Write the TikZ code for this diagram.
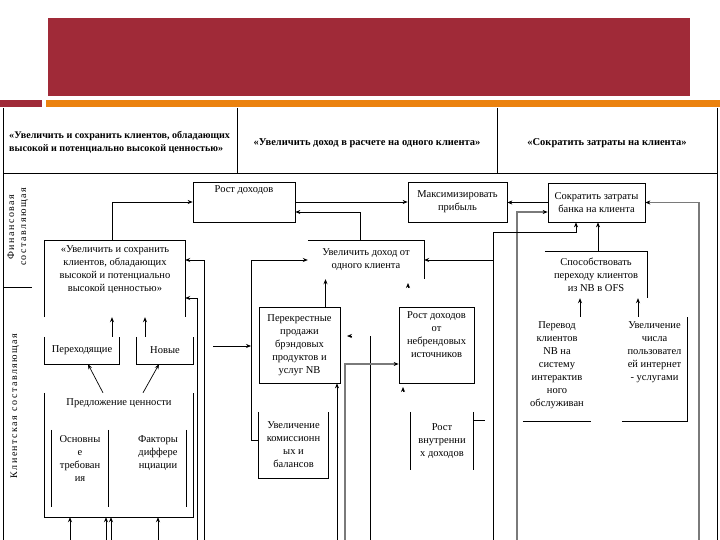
\documentclass[tikz,border=0pt]{standalone}
\usepackage{fontspec}
\setmainfont{Liberation Serif}
\newfontfamily\spacedfont[LetterSpace=15]{Liberation Serif}
\usepackage{tikz}
\usetikzlibrary{positioning, arrows, arrows.meta, calc}
\definecolor{headRed}{HTML}{A02A38}
\definecolor{barOrange}{HTML}{EB820F}
\definecolor{scanGray}{HTML}{7A7A7A}

\begin{document}
\begin{tikzpicture}[
    x=1pt, y=-1pt,
    every node/.style={font=\fontsize{10.5}{13}\selectfont, align=center, inner sep=1pt},
    box/.style={rectangle, draw=black, line width=0.7pt, inner sep=0pt},
    openbox/.style={rectangle, inner sep=0pt},
    border/.style={line width=0.7pt},
    arrow/.style={->, >={Stealth[length=5pt, width=4pt]}, line width=0.7pt},
    grayarrow/.style={->, >={Stealth[length=5pt, width=4pt, black]}, line width=1.3pt, draw=scanGray},
    headtext/.style={font=\bfseries\fontsize{10.5}{13}\selectfont},
    sidelabel/.style={font=\spacedfont\fontsize{10}{12}\selectfont, rotate=90},
]
\fill[white] (0,0) rectangle (720,540);
\useasboundingbox (0,0) rectangle (720,540);

% === TITLE BAND ===
\fill[headRed] (48,18) rectangle (690,96);
\fill[headRed] (0,100) rectangle (42,107);
\fill[barOrange] (46,100) rectangle (720,107);

% === TABLE FRAME ===
\draw[border] (3,108) -- (3,540);
\draw[border] (717,108) -- (717,540);
\draw[border] (237,108) -- (237,173);
\draw[border] (497,108) -- (497,173);
\draw[border] (3,173) -- (717,173);
\draw[border] (3,287) -- (32,287);

% === HEADINGS ===
\node[headtext, anchor=west, align=left, font=\bfseries\fontsize{10.1}{13}\selectfont] (headA) at (8,142.5)
    {«Увеличить и сохранить клиентов, обладающих\\высокой и потенциально высокой ценностью»};
\node[headtext] (headB) at (367,143) {«Увеличить доход в расчете на одного клиента»};
\node[headtext] (headC) at (607,143) {«Сократить затраты на клиента»};

% === SIDE LABELS ===
\node[sidelabel] (finLabel) at (18,227) {Финансовая\\составляющая};
\node[sidelabel] (cliLabel) at (15,406) {Клиентская составляющая};

% === FINANCIAL ROW ===
\node[box, minimum width=102, minimum height=40] (rost) at (244,202) {};
\node[below=3pt of rost.north] (rostT) {Рост доходов};
\node[box, minimum width=99, minimum height=40] (maks) at (457.5,202) {Максимизировать\\прибыль};
\node[box, minimum width=97, minimum height=39] (sokr) at (596.5,202.5) {Сократить затраты\\банка на клиента};

% --- client column ---
\node[openbox, minimum width=140, minimum height=76] (uvsohr) at (115,279) {};
\node[below=4pt of uvsohr.north] (uvsohrT)
    {«Увеличить и сохранить\\клиентов, обладающих\\высокой и потенциально\\высокой ценностью»};
\draw[border] (uvsohr.south west) -- (uvsohr.north west) -- (uvsohr.north east) -- (uvsohr.south east);

\node[openbox, minimum width=74, minimum height=27] (pereh) at (82,350.5) {Переходящие};
\draw[border] (pereh.north west) -- (pereh.south west) -- (pereh.south east) -- (pereh.north east);
\node[openbox, minimum width=56, minimum height=27] (novye) at (165,350.5) {Новые};
\draw[border] (novye.north west) -- (novye.south west) -- (novye.south east) -- (novye.north east);

\node[openbox, minimum width=148, minimum height=124] (predl) at (119,455) {};
\node[below=5pt of predl.north] (predlT) {Предложение ценности};
\draw[border] (predl.north west) -- (predl.south west) -- (predl.south east) -- (predl.north east);

\node[openbox, minimum width=56, minimum height=77] (osnov) at (80,468.5) {};
\node[below=5pt of osnov.north] (osnovT) {Основны\\е\\требован\\ия};
\draw[border] (osnov.north west) -- (osnov.south west);
\draw[border] (osnov.north east) -- (osnov.south east);

\node[openbox, minimum width=56, minimum height=77] (faktor) at (158,468.5) {};
\node[below=5pt of faktor.north] (faktorT) {Факторы\\диффере\\нциации};
\draw[border] (faktor.north east) -- (faktor.south east);

% --- revenue column ---
\node[openbox, minimum width=116, minimum height=38] (uvdoh) at (366,260) {Увеличить доход от\\одного клиента};
\draw[border] (uvdoh.north west) -- (uvdoh.north east) -- (uvdoh.south east);

\node[box, minimum width=81, minimum height=76] (perekr) at (299.5,345)
    {Перекрестные\\продажи\\брэндовых\\продуктов и\\услуг NB};
\node[box, minimum width=75, minimum height=76] (nebrand) at (436.5,345) {};
\node[below=4pt of nebrand.north] (nebrandT) {Рост доходов\\от\\небрендовых\\источников};

\node[openbox, minimum width=69, minimum height=66] (uvkom) at (293.5,445)
    {Увеличение\\комиссионн\\ых и\\балансов};
\draw[border] (uvkom.north west) -- (uvkom.south west) -- (uvkom.south east) -- (uvkom.north east);

\node[openbox, minimum width=62, minimum height=58] (rvnutr) at (442,441) {Рост\\внутренни\\х доходов};
\draw[border] (rvnutr.north west) -- (rvnutr.south west);
\draw[border] (rvnutr.north east) -- (rvnutr.south east);
\draw[border] ([yshift=-9pt]rvnutr.north east) -- ++(12,0);

% --- cost column ---
\node[openbox, minimum width=102, minimum height=46] (sposob) at (596,275)
    {Способствовать\\переходу клиентов\\из NB в OFS};
\draw[border] (sposob.north west) -- (sposob.north east) -- (sposob.south east);

\node[openbox, minimum width=68, minimum height=104] (perevod) at (557,369) {};
\node[below=4pt of perevod.north] (perevodT)
    {Перевод\\клиентов\\NB на\\систему\\интерактив\\ного\\обслуживан};
\draw[border] (perevod.south west) -- (perevod.south east);

\node[openbox, minimum width=65, minimum height=104] (uvchisl) at (654.5,369) {};
\node[below=4pt of uvchisl.north] (uvchislT)
    {Увеличение\\числа\\пользовател\\ей интернет\\- услугами};
\draw[border] (uvchisl.south west) -- (uvchisl.south east) -- (uvchisl.north east);

% === FREE ENDS AT THE BOTTOM EDGE ===
\foreach \x in {70,106,111,158,197,204,337,345,370,493,517,699}
    \coordinate (r\x) at (\x,540);
\coordinate (sokrB) at (576,232);
\coordinate (lft) at (213,346);
\coordinate (tipA) at (408,288);
\coordinate (tipB) at (352,336);
\coordinate (tipC) at (403,392);

% === ARROWS ===
% top row
\draw[arrow] ([xshift=-3pt]uvsohr.north) |- (rost.west);
\draw[arrow] (rost.east) -- (maks.west);
\draw[arrow] (sokr.west) -- (sokr.west -| maks.east);
\draw[arrow] ([xshift=-6pt]uvdoh.north) |- ([yshift=-10pt]rost.east);
\draw[grayarrow] (r699) |- (sokr.east);
\draw[grayarrow] (r517) |- ([yshift=-9.5pt]sokr.west);
\draw[arrow] (r493) |- (sokrB) -- (sokrB |- sokr.south);
\draw[arrow] (r493 |- uvdoh.east) -- (uvdoh.east);

% cost column
\draw[arrow] ([xshift=2pt]sposob.north) -- ([xshift=2pt]sposob.north |- sokr.south);
\draw[arrow] ([xshift=23pt]perevod.north) -- ([xshift=23pt]perevod.north |- sposob.south);
\draw[arrow] ([xshift=-16.5pt]uvchisl.north) -- ([xshift=-16.5pt]uvchisl.north |- sposob.south);

% revenue column
\draw[arrow] ([xshift=26pt]perekr.north) -- ([xshift=26pt]perekr.north |- uvdoh.south);
\draw[arrow] (tipA) -- ++(0,-5);
\draw[border] (r370) -- ++(0,-204);
\draw[arrow] (tipB) -- ++(-5,0);
\draw[grayarrow] (r345) |- ([yshift=-19pt]nebrand.west);
\draw[arrow] (r337) -- (r337 |- perekr.south);
\draw[arrow] (tipC) -- ++(0,-5);
\draw[arrow] ([yshift=5pt]uvkom.west) -- ++(-7,0) |- (uvdoh.west);
\draw[arrow] (lft) -- ++(38,0);

% client column
\draw[arrow] (r204) |- ([yshift=19pt]uvsohr.east);
\draw[arrow] (r197) |- ([yshift=-19pt]uvsohr.east);
\draw[arrow] ([xshift=30pt]pereh.north) -- ([xshift=30pt]pereh.north |- uvsohr.south);
\draw[arrow] ([xshift=-20pt]novye.north) -- ([xshift=-20pt]novye.north |- uvsohr.south);
\draw[arrow] ([xshift=-16pt]predl.north) -- ([xshift=6pt]pereh.south);
\draw[arrow] ([xshift=24pt]predl.north) -- ([xshift=-6pt]novye.south);
\foreach \x in {70,106,111,158}
    \draw[arrow] (r\x) -- (r\x |- predl.south);
\end{tikzpicture}
\end{document}
